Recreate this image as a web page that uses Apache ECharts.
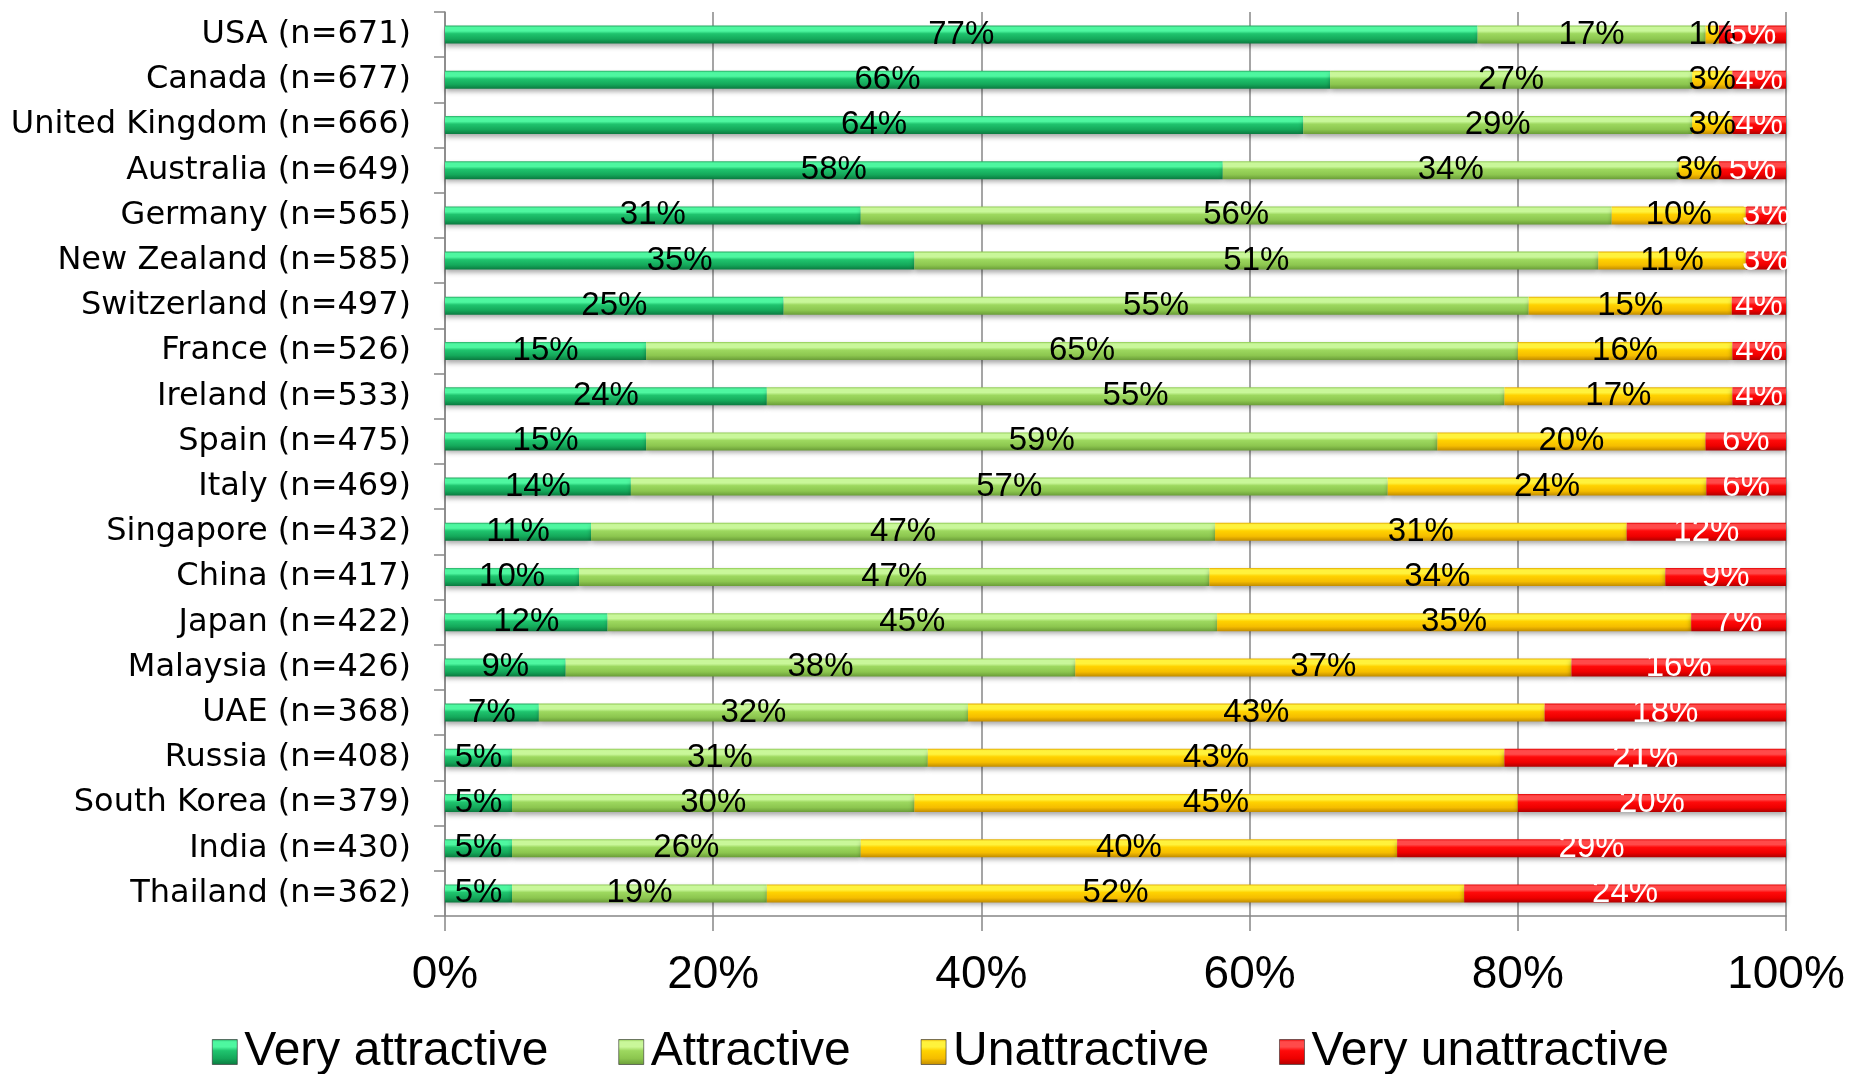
<!DOCTYPE html>
<html>
<head>
<meta charset="utf-8">
<title>Attractiveness by country</title>
<script src="https://cdn.jsdelivr.net/npm/echarts@6/dist/echarts.min.js"></script>
<style>
  html, body { margin: 0; padding: 0; background: #ffffff; }
  #chart { width: 1851px; height: 1074px; }
</style>
</head>
<body>
<div id="chart"></div>
<script>
// Survey answers per country, in percent of respondents
const countries = [
  'USA', 'Canada', 'United Kingdom', 'Australia', 'Germany', 'New Zealand',
  'Switzerland', 'France', 'Ireland', 'Spain', 'Italy', 'Singapore', 'China',
  'Japan', 'Malaysia', 'UAE', 'Russia', 'South Korea', 'India', 'Thailand'
];
const sampleSizes = [671, 677, 666, 649, 565, 585, 497, 526, 533, 475, 469, 432, 417, 422, 426, 368, 408, 379, 430, 362];

const veryAttractive   = [77, 66, 64, 58, 31, 35, 25, 15, 24, 15, 14, 11, 10, 12, 9, 7, 5, 5, 5, 5];
const attractive       = [17, 27, 29, 34, 56, 51, 55, 65, 55, 59, 57, 47, 47, 45, 38, 32, 31, 30, 26, 19];
const unattractive     = [1, 3, 3, 3, 10, 11, 15, 16, 17, 20, 24, 31, 34, 35, 37, 43, 43, 45, 40, 52];
const veryUnattractive = [5, 4, 4, 5, 3, 3, 4, 4, 4, 6, 6, 12, 9, 7, 16, 18, 21, 20, 29, 24];

const seriesNames = ['Very attractive', 'Attractive', 'Unattractive', 'Very unattractive'];
const xTickLabels = ['0%', '20%', '40%', '60%', '80%', '100%'];

const categoryLabels = countries.map((c, i) => c + ' (n=' + sampleSizes[i] + ')');

// 100% stacked: each row is scaled to its own total, labels keep the reported percent
const rows = [veryAttractive, attractive, unattractive, veryUnattractive];
const rowTotals = countries.map((_, i) => rows.reduce((s, r) => s + r[i], 0));
function shareData(values) {
  return values.map((v, i) => ({ value: v / rowTotals[i] * 100, reported: v }));
}

// Bevelled bar fills: dark rim, bright upper band, body, darker lower edge
function bevel(rim, light, body, low, dark) {
  return new echarts.graphic.LinearGradient(0, 0, 0, 1, [
    { offset: 0, color: rim },
    { offset: 0.1, color: light },
    { offset: 0.3, color: light },
    { offset: 0.45, color: body },
    { offset: 0.75, color: low },
    { offset: 1, color: dark }
  ]);
}
const fills = [
  bevel('#27a862', '#4ef7a0', '#1fc46e', '#14a85a', '#0b7a40'),
  bevel('#8cc750', '#c9f79a', '#9dd85f', '#8cc64f', '#6a9d38'),
  bevel('#e0a800', '#fff23c', '#ffd200', '#f5bd00', '#c18c00'),
  bevel('#e00000', '#ff4a4a', '#ff0a0a', '#ee0000', '#b00000')
];
const labelColors = ['#000000', '#000000', '#000000', '#ffffff'];
const seriesValues = [veryAttractive, attractive, unattractive, veryUnattractive];

const chart = echarts.init(document.getElementById('chart'), null, { renderer: 'canvas' });

const gray = '#878787';
const textFont = '"Liberation Sans", Arial, sans-serif';

chart.setOption({
  animation: false,
  backgroundColor: '#ffffff',
  grid: { left: 445, right: 65, top: 12, bottom: 158, containLabel: false },
  legend: {
    data: seriesNames,
    left: 212,
    top: 1028,
    padding: 0,
    itemGap: 70,
    itemWidth: 25,
    itemHeight: 25,
    icon: 'rect',
    itemStyle: { borderColor: '#2b2b2b', borderWidth: 0.6 },
    textStyle: { fontSize: 48, color: '#000000', fontFamily: textFont, padding: [0, 0, 0, 2] }
  },
  xAxis: {
    type: 'value',
    min: 0,
    max: 100,
    interval: 20,
    axisLine: { show: true, lineStyle: { color: gray, width: 1.5 } },
    axisTick: { show: true, length: 15, lineStyle: { color: gray, width: 1.5 } },
    splitLine: { show: true, lineStyle: { color: gray, width: 1.5 } },
    axisLabel: {
      margin: 36,
      fontSize: 46,
      color: '#000000',
      fontFamily: textFont,
      formatter: v => xTickLabels[Math.round(v / 20)]
    }
  },
  yAxis: {
    type: 'category',
    inverse: true,
    data: categoryLabels,
    axisLine: { show: true, lineStyle: { color: gray, width: 1.5 } },
    axisTick: { show: true, length: 11, lineStyle: { color: gray, width: 1.5 } },
    axisLabel: {
      margin: 34,
      fontSize: 32,
      color: '#000000',
      fontFamily: '"DejaVu Sans", sans-serif'
    }
  },
  series: seriesNames.map((name, k) => ({
    name: name,
    type: 'bar',
    stack: 'share',
    barWidth: 18,
    data: shareData(seriesValues[k]),
    itemStyle: {
      color: fills[k],
      shadowColor: 'rgba(0,0,0,0.35)',
      shadowBlur: 5,
      shadowOffsetY: 3
    },
    label: {
      show: true,
      position: 'inside',
      fontSize: 33,
      fontFamily: textFont,
      color: labelColors[k],
      formatter: p => p.data.reported + '%'
    },
    labelLayout: { hideOverlap: false }
  }))
});
</script>
</body>
</html>
